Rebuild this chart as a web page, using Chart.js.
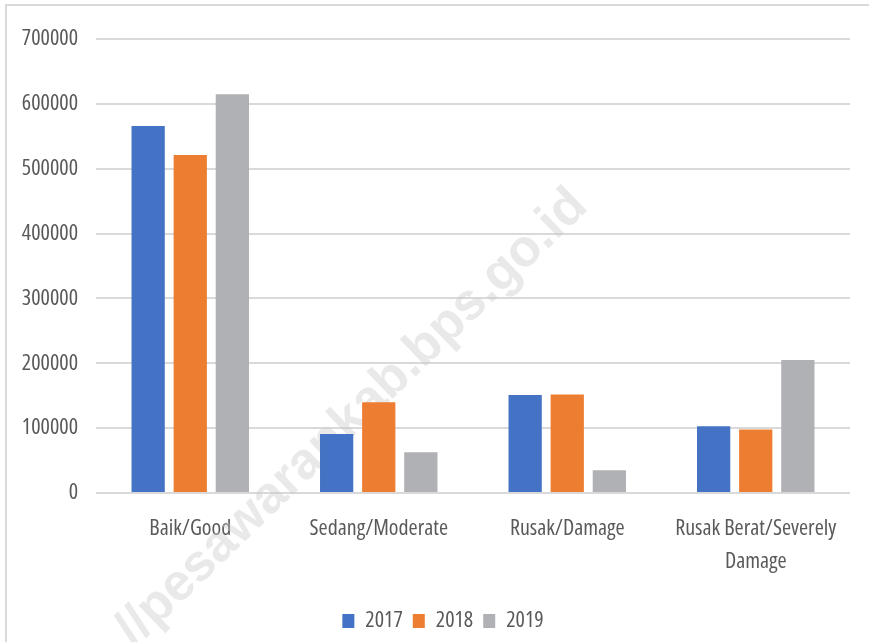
<!DOCTYPE html>
<html>
<head>
<meta charset="utf-8">
<script src="https://cdn.jsdelivr.net/npm/chart.js@4.4.1/dist/chart.umd.min.js"></script>
<style>
  html, body { margin: 0; padding: 0; background: #fff; }
  #grafik { display: block; }
</style>
</head>
<body>
<canvas id="grafik" width="869" height="642"></canvas>
<script>
const kategori = ["Baik/Good", "Sedang/Moderate", "Rusak/Damage", ["Rusak Berat/Severely", "Damage"]];
const tahun = ["2017", "2018", "2019"];
const nilai2017 = [566000, 91000, 151000, 103000];
const nilai2018 = [521000, 140000, 152000, 98000];
const nilai2019 = [615000, 63000, 35000, 205000];
const warna = ["#4472C4", "#ED7D31", "#B0B1B4"];

// font sempit: "condensed" masuk lewat weight supaya jadi font-stretch
const FONT = "'Open Sans', 'Liberation Sans Narrow', sans-serif";
const fontLabel = { family: FONT, size: 22, weight: "condensed" };

// bingkai tipis + watermark, legenda digeser sedikit ke kanan
const hiasan = {
  id: "hiasan",
  afterLayout(chart) {
    chart.legend.left += 18;
    chart.legend.right += 18;
  },
  beforeDatasetsDraw(chart) {
    const ctx = chart.ctx;
    ctx.save();
    ctx.translate(352, 418);
    ctx.rotate(-44 * Math.PI / 180);
    ctx.font = "bold 52px 'Liberation Sans', Arial, sans-serif";
    ctx.fillStyle = "rgba(200,200,200,0.4)";
    ctx.textAlign = "center";
    ctx.textBaseline = "middle";
    ctx.fillText("//pesawarankab.bps.go.id", 0, 0);
    ctx.restore();
  },
  afterDraw(chart) {
    const ctx = chart.ctx;
    ctx.save();
    ctx.strokeStyle = "#d9d9d9";
    ctx.lineWidth = 2;
    ctx.beginPath();
    ctx.moveTo(6, 642);
    ctx.lineTo(6, 5);
    ctx.lineTo(869, 5);
    ctx.stroke();
    ctx.restore();
  }
};

new Chart(document.getElementById("grafik"), {
  type: "bar",
  data: {
    labels: kategori,
    datasets: [
      { label: tahun[0], data: nilai2017, backgroundColor: warna[0] },
      { label: tahun[1], data: nilai2018, backgroundColor: warna[1] },
      { label: tahun[2], data: nilai2019, backgroundColor: warna[2] }
    ]
  },
  options: {
    responsive: false,
    animation: false,
    devicePixelRatio: 1,
    categoryPercentage: 0.67,
    barPercentage: 0.79,
    layout: { padding: { top: 39, right: 19, bottom: 0, left: 0 } },
    scales: {
      x: {
        grid: { display: false },
        border: { display: false },
        ticks: {
          color: "#595959",
          font: { ...fontLabel, lineHeight: 1.5 },
          padding: 11,
          maxRotation: 0,
          autoSkip: false
        },
        afterFit(scale) { scale.height = 107; }
      },
      y: {
        min: 0,
        max: 700000,
        grid: { color: "#d9d9d9", lineWidth: 2, drawTicks: false },
        border: { display: false },
        ticks: {
          stepSize: 100000,
          color: "#595959",
          font: fontLabel,
          padding: 18,
          callback: v => String(v)
        },
        afterFit(scale) { scale.width = 96; }
      }
    },
    plugins: {
      legend: {
        position: "bottom",
        labels: {
          color: "#595959",
          font: fontLabel,
          boxWidth: 12,
          boxHeight: 14,
          padding: 10
        }
      },
      tooltip: { enabled: false }
    }
  },
  plugins: [hiasan]
});
</script>
</body>
</html>
